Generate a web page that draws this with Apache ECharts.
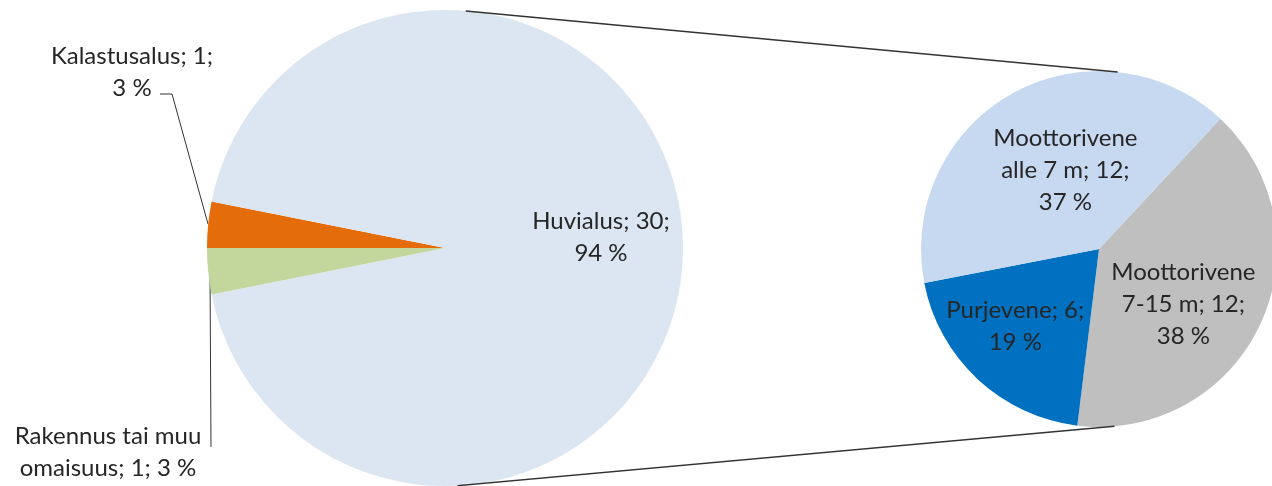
<!DOCTYPE html>
<html>
<head>
<meta charset="utf-8">
<title>Vahingot aluksittain</title>
<script src="https://cdn.jsdelivr.net/npm/echarts@6/dist/echarts.min.js"></script>
<style>
  html, body { margin: 0; padding: 0; background: #fff; }
  #main { width: 1272px; height: 486px; }
</style>
</head>
<body>
<div id="main"></div>
<script type="text/javascript">
// left (main) pie
var leftNames = ['Kalastusalus', 'Huvialus', 'Rakennus tai muu omaisuus'];
var leftValues = [1, 30, 1];
var leftPct = ['3 %', '94 %', '3 %'];
var leftColors = ['#E46C0A', '#DCE6F2', '#C3D69B'];

// right pie = breakdown of Huvialus
var rightNames = ['Moottorivene 7-15 m', 'Purjevene', 'Moottorivene alle 7 m'];
var rightValues = [12, 6, 12];
var rightPct = ['38 %', '19 %', '37 %'];
var rightColors = ['#BFBFBF', '#0070C0', '#C6D9F1'];

var leftC = [445, 248], leftR = 238;
var rightC = [1099, 249], rightR = 178;
var FONT = 'Lato';

function labelText(name, value, pct) {
    var head = name.replace('Moottorivene ', 'Moottorivene\n').replace('tai muu ', 'tai muu\n');
    var txt = head + '; ' + value + ';';
    return name.indexOf('Rakennus') === 0 ? txt + ' ' + pct : txt + '\n' + pct;
}

function pt(c, r, deg) {
    var a = deg * Math.PI / 180;
    return [c[0] + r * Math.cos(a), c[1] - r * Math.sin(a)];
}

var leftData = leftNames.map(function (n, i) {
    var d = { name: n, value: leftValues[i], itemStyle: { color: leftColors[i] } };
    if (i === 1) {
        d.label = { position: 'inside' };
        d.labelLine = { show: false };
    }
    return d;
});
var rightData = rightNames.map(function (n, i) {
    return { name: n, value: rightValues[i], itemStyle: { color: rightColors[i] } };
});

var myChart = echarts.init(document.getElementById('main'));

var t1 = pt(leftC, leftR, 85), t2 = pt(rightC, rightR, 84);
var b1 = pt(leftC, leftR, -87), b2 = pt(rightC, rightR, -85);

var baseLabel = {
    color: '#262626',
    fontFamily: FONT,
    fontSize: 24,
    lineHeight: 32,
    align: 'center'
};

myChart.setOption({
    animation: false,
    graphic: [
        { type: 'line', shape: { x1: t1[0], y1: t1[1], x2: t2[0], y2: t2[1] }, style: { stroke: '#333', lineWidth: 1.5 }, z: 10 },
        { type: 'line', shape: { x1: b1[0], y1: b1[1], x2: b2[0], y2: b2[1] }, style: { stroke: '#333', lineWidth: 1.5 }, z: 10 }
    ],
    series: [
        {
            type: 'pie',
            silent: true,
            center: leftC,
            radius: leftR,
            startAngle: 180,
            clockwise: true,
            avoidLabelOverlap: false,
            label: Object.assign({
                show: true,
                position: 'outside',
                formatter: function (p) { return labelText(p.name, p.value, leftPct[p.dataIndex]); }
            }, baseLabel),
            labelLine: { show: true, lineStyle: { color: '#333', width: 1 } },
            labelLayout: function (p) {
                if (p.dataIndex === 0) {
                    return { x: 132, y: 72, align: 'center', verticalAlign: 'middle',
                        labelLinePoints: [[208, 224], [172, 94], [160, 94]] };
                }
                if (p.dataIndex === 2) {
                    return { x: 108, y: 452, align: 'center', verticalAlign: 'middle',
                        labelLinePoints: [[210, 272], [211, 447], [211, 447]] };
                }
                return { dx: 34, dy: -11 };
            },
            itemStyle: { borderWidth: 0 },
            data: leftData
        },
        {
            type: 'pie',
            silent: true,
            center: rightC,
            radius: rightR,
            startAngle: 47,
            clockwise: true,
            avoidLabelOverlap: false,
            label: Object.assign({
                show: true,
                position: 'inside',
                formatter: function (p) { return labelText(p.name, p.value, rightPct[p.dataIndex]); }
            }, baseLabel),
            labelLine: { show: false },
            labelLayout: function (p) {
                var off = [[1, 16], [-21, 10], [11, 2]];
                return { dx: off[p.dataIndex][0], dy: off[p.dataIndex][1] };
            },
            itemStyle: { borderWidth: 0 },
            data: rightData
        }
    ]
});
</script>
</body>
</html>
